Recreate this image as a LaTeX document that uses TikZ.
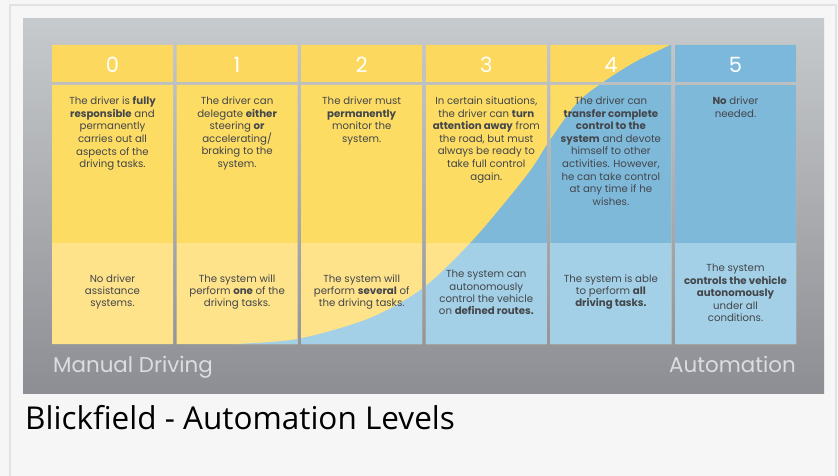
\documentclass[tikz,border=0pt]{standalone}
\usepackage{fontspec}
\setmainfont{Poppins}
\newfontfamily\capfont{Open Sans}
\definecolor{pagebg}{HTML}{F6F6F6}
\definecolor{frameln}{HTML}{E2E2E2}
\definecolor{paneltop}{HTML}{C7CACD}
\definecolor{panelbot}{HTML}{8D8E93}
\definecolor{yelA}{HTML}{FDD85E}
\definecolor{yelB}{HTML}{FDDC64}
\definecolor{yelC}{HTML}{FEE38A}
\definecolor{bluA}{HTML}{7CB8DB}
\definecolor{bluB}{HTML}{7EB9DA}
\definecolor{bluC}{HTML}{A3D0E6}
\definecolor{txt}{HTML}{43464B}
\definecolor{endlbl}{HTML}{DCDDE0}
\begin{document}
\begin{tikzpicture}[x=1pt,y=-1pt,
  lvl/.style={font=\fontsize{21}{21}\selectfont, text=white, inner sep=0pt},
  desc/.style={font=\fontsize{10.2}{12.6}\selectfont, text=txt, align=center, inner sep=0pt, anchor=north},
  sys/.style={font=\fontsize{10.2}{12.4}\selectfont, text=txt, align=center, inner sep=0pt},
  endtext/.style={font=\fontsize{21.4}{21.4}\selectfont, text=endlbl, inner sep=0pt}]
% page and frame
\useasboundingbox (0,0) rectangle (838,476);
\fill[pagebg] (0,0) rectangle (838,476);
\draw[frameln, line width=2pt] (10,480) -- (10,5) -- (836,5) -- (836,480);
% grey panel
\shade[top color=paneltop, bottom color=panelbot] (23,19) rectangle (824,393);
% region taken over by automation
\def\bluearea{(150,346) -- plot[smooth] coordinates {(190,345.5) (237,344) (300,338.5) (370,318) (423,288) (473,240) (527,175) (550,140) (577,103) (602,83) (635,62) (670,45) (700,28)} -- (900,10) -- (900,400) -- cycle}
\foreach \ya/\yb/\yel/\blu in {45/82/yelA/bluA, 85/243/yelB/bluB, 243/344/yelC/bluC} {
  \begin{scope}
    \clip \foreach \i in {0,...,5} {(52+124.6*\i,\ya) rectangle ++(121,\yb-\ya)};
    \fill[\yel] (0,0) rectangle (838,476);
    \fill[\blu] \bluearea;
  \end{scope}
}
% level numbers
\foreach \i in {0,...,5} {
  \node[lvl] (h\i) at (112.5+124.6*\i,64.5) {\i};
}
% what the driver does
\node[desc] (d0) at (112.5,96.5) {The driver is \textbf{fully}\\\textbf{responsible} and\\permanently\\carries out all\\aspects of the\\driving tasks.};
\node[desc] (d1) at (237.1,96.5) {The driver can\\delegate \textbf{either}\\steering \textbf{or}\\accelerating/\\braking to the\\system.};
\node[desc] (d2) at (361.7,96.5) {The driver must\\\textbf{permanently}\\monitor the\\system.};
\node[desc] (d3) at (486.3,96.5) {In certain situations,\\the driver can \textbf{turn}\\\textbf{attention away} from\\the road, but must\\always be ready to\\take full control\\again.};
\node[desc] (d4) at (610.9,96.5) {The driver can\\\textbf{transfer complete}\\\textbf{control to the}\\\textbf{system} and devote\\himself to other\\activities. However,\\he can take control\\at any time if he\\wishes.};
\node[desc] (d5) at (735.5,96.5) {\textbf{No} driver\\needed.};
% what the system does
\node[sys] (s0) at (112.5,292) {No driver\\assistance\\systems.};
\node[sys] (s1) at (237.1,292) {The system will\\perform \textbf{one} of the\\driving tasks.};
\node[sys] (s2) at (361.7,292) {The system will\\perform \textbf{several} of\\the driving tasks.};
\node[sys] (s3) at (486.3,292.5) {The system can\\autonomously\\control the vehicle\\on \textbf{defined routes.}};
\node[sys] (s4) at (610.9,292) {The system is able\\to perform \textbf{all}\\\textbf{driving tasks.}};
\node[sys] (s5) at (735.5,293) {The system\\\textbf{controls the vehicle}\\\textbf{autonomously}\\under all\\conditions.};
% ends of the scale
\node[endtext, anchor=base west] (manual) at (53,372) {Manual Driving};
\node[endtext, anchor=base east] (auto) at (796,372) {Automation};
% caption
\node[font=\capfont\fontsize{31.5}{31.5}\selectfont, text=black, anchor=base west, inner sep=0pt] (cap) at (25,429) {Blickfield - Automation Levels};
\end{tikzpicture}
\end{document}
